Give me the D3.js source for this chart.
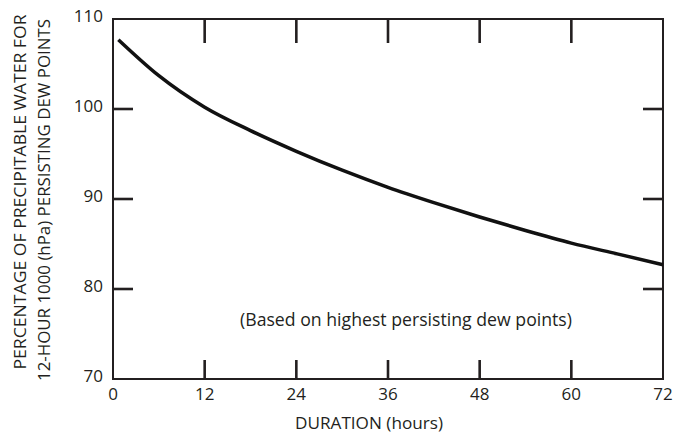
<!DOCTYPE html>
<html>
<head>
<meta charset="utf-8">
<script src="https://cdn.jsdelivr.net/npm/d3@7"></script>
<style>
  body { margin: 0; background: #fff; }
  text { font-family: 'Open Sans', sans-serif; fill: #231f20; }
</style>
</head>
<body>
<svg id="chart" width="675" height="435"></svg>
<script>
// duration (hours) and % of 12-hour precipitable water
const hours = [0.7, 6, 12, 18, 24, 30, 36, 42, 48, 54, 60, 66, 72];
const percent = [107.7, 103.7, 100.2, 97.6, 95.3, 93.2, 91.3, 89.6, 88.0, 86.5, 85.1, 83.9, 82.7];

const xTicks = [0, 12, 24, 36, 48, 60, 72];
const yTicks = [70, 80, 90, 100, 110];
const innerXTicks = [12, 24, 36, 48, 60];
const innerYTicks = [80, 90, 100];

const ink = '#231f20';
const svg = d3.select('#chart');

const x = d3.scaleLinear().domain([0, 72]).range([113, 663]);
const y = d3.scaleLinear().domain([70, 110]).range([379, 19]);

// frame
svg.append('rect')
  .attr('x', x(0)).attr('y', y(110))
  .attr('width', x(72) - x(0)).attr('height', y(70) - y(110))
  .attr('fill', 'none').attr('stroke', ink).attr('stroke-width', 2);

// inward ticks, all four sides
function tickLines(vals, fn) {
  vals.forEach((v) => {
    const [x1, y1, x2, y2] = fn(v);
    svg.append('line').attr('x1', x1).attr('y1', y1).attr('x2', x2).attr('y2', y2)
      .attr('stroke', ink).attr('stroke-width', 2.6);
  });
}
tickLines(innerXTicks, (v) => [x(v), y(70), x(v), y(70) - 19]);
tickLines(innerXTicks, (v) => [x(v), y(110), x(v), y(110) + 24]);
tickLines(innerYTicks, (v) => [x(0), y(v), x(0) + 20, y(v)]);
tickLines(innerYTicks, (v) => [x(72), y(v), x(72) - 20, y(v)]);

// tick labels
svg.selectAll('.xl').data(xTicks).enter().append('text')
  .attr('x', (d) => x(d)).attr('y', 400)
  .attr('text-anchor', 'middle').style('font-size', '17px')
  .text((d) => d);
svg.selectAll('.yl').data(yTicks).enter().append('text')
  .attr('x', 103).attr('y', (d) => y(d) + 3)
  .attr('text-anchor', 'end').style('font-size', '17px')
  .text((d) => d);

// curve
const line = d3.line()
  .x((d, i) => x(hours[i]))
  .y((d) => y(d))
  .curve(d3.curveMonotoneX);
svg.append('path')
  .attr('d', line(percent))
  .attr('fill', 'none').attr('stroke', '#111').attr('stroke-width', 3.5);

// annotation + titles
svg.append('text').attr('x', 406).attr('y', 326)
  .attr('text-anchor', 'middle').style('font-size', '17.5px')
  .attr('textLength', 332).attr('lengthAdjust', 'spacingAndGlyphs')
  .text('(Based on highest persisting dew points)');
svg.append('text').attr('x', 369).attr('y', 429)
  .attr('text-anchor', 'middle').style('font-size', '17px')
  .attr('textLength', 148).attr('lengthAdjust', 'spacingAndGlyphs')
  .text('DURATION (hours)');

const yTitle = ['PERCENTAGE OF PRECIPITABLE WATER FOR', '12-HOUR 1000 (hPa) PERSISTING DEW POINTS'];
const yTitleLen = [355, 362];
const yTitleMid = [192, 200];
svg.selectAll('.yt').data(yTitle).enter().append('text')
  .attr('transform', (d, i) => `translate(${26 + i * 24},${yTitleMid[i]}) rotate(-90)`)
  .attr('text-anchor', 'middle').style('font-size', '17px')
  .attr('textLength', (d, i) => yTitleLen[i]).attr('lengthAdjust', 'spacingAndGlyphs')
  .text((d) => d);
</script>
</body>
</html>
